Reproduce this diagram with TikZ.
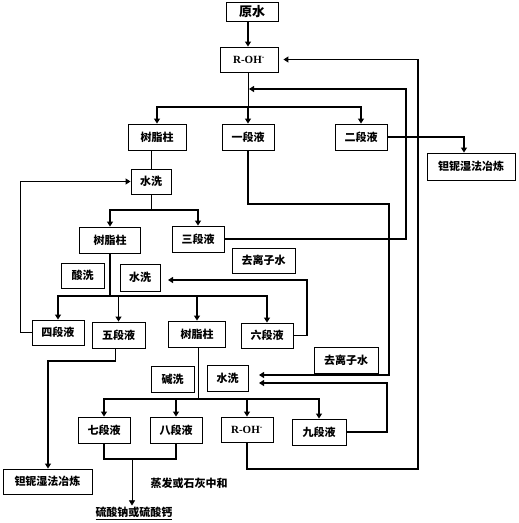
\documentclass[tikz,border=0pt]{standalone}
\usepackage{fontspec}
\setmainfont{Noto Sans CJK SC}
\newfontfamily\latf{Liberation Serif}
\usetikzlibrary{arrows.meta}
\tikzset{
  box/.style={draw, line width=0.9pt, inner sep=0pt, font=\fontsize{11}{13}\selectfont\bfseries},
  flow/.style={line width=1.1pt, -{Triangle[length=5pt,width=6pt]}},
  link/.style={line width=1.1pt},
  thin link/.style={line width=0.6pt},
  thin flow/.style={line width=0.6pt, -{Triangle[length=5pt,width=6pt]}},
  lbl/.style={inner sep=1pt, font=\fontsize{11}{13}\selectfont\bfseries},
}
\newcommand{\roh}{{\latf\bfseries R-OH\textsuperscript{-}}}
\begin{document}
\begin{tikzpicture}[x=1pt,y=-1pt]
\useasboundingbox (0,0) rectangle (519,523);
% boxes
\node[box, minimum width=52pt, minimum height=19pt, font=\fontsize{13}{15}\selectfont\bfseries] (ys) at (252,11.5) {原水};
\node[box, minimum width=58pt, minimum height=25pt] (roha) at (249,59.5) {\roh};
\node[box, minimum width=58pt, minimum height=26pt] (szza) at (157,137) {树脂柱};
\node[box, minimum width=52pt, minimum height=26pt] (yd) at (248,137) {一段液};
\node[box, minimum width=52pt, minimum height=26pt] (ed) at (361,137) {二段液};
\node[box, minimum width=88pt, minimum height=27pt] (tna) at (471,166.5) {钽铌湿法冶炼};
\node[box, minimum width=40pt, minimum height=25pt] (sxa) at (151,181.5) {水洗};
\node[box, minimum width=61pt, minimum height=26pt] (szzb) at (110,240) {树脂柱};
\node[box, minimum width=52pt, minimum height=26pt] (sd) at (198,239) {三段液};
\node[box, minimum width=63pt, minimum height=25pt] (qlza) at (263.5,260.5) {去离子水};
\node[box, minimum width=43pt, minimum height=25pt] (sxi) at (82.5,275.5) {酸洗};
\node[box, minimum width=40pt, minimum height=27pt] (sxb) at (140,277.5) {水洗};
\node[box, minimum width=52pt, minimum height=25pt] (sid) at (58,332.5) {四段液};
\node[box, minimum width=53pt, minimum height=26pt] (wd) at (118.5,335) {五段液};
\node[box, minimum width=57pt, minimum height=26pt] (szzc) at (197,334) {树脂柱};
\node[box, minimum width=52pt, minimum height=25pt] (ld) at (267,335.5) {六段液};
\node[box, minimum width=64pt, minimum height=26pt] (qlzb) at (346,360) {去离子水};
\node[box, minimum width=43pt, minimum height=26pt] (jx) at (172.5,379) {碱洗};
\node[box, minimum width=41pt, minimum height=26pt] (sxc) at (227.5,378) {水洗};
\node[box, minimum width=52pt, minimum height=26pt] (qd) at (104,430) {七段液};
\node[box, minimum width=52pt, minimum height=26pt] (bd) at (176,430) {八段液};
\node[box, minimum width=52pt, minimum height=25pt] (rohb) at (247,429.5) {\roh};
\node[box, minimum width=54pt, minimum height=26pt] (jd) at (319,432) {九段液};
\node[box, minimum width=89pt, minimum height=25pt] (tnb) at (47.5,481.5) {钽铌湿法冶炼};
\node[lbl] (zf) at (189,483) {蒸发或石灰中和};
\node[lbl] (prod) at (134,513) {\underline{硫酸钠或硫酸钙}};
% coordinates
\coordinate (b1) at (248,107);
\coordinate (b2) at (151,210);
\coordinate (b3) at (110,296);
\coordinate (b4) at (198,399);
\coordinate (f1) at (418,469);
\coordinate (f2) at (406,89);
\coordinate (j2) at (249,89);
\coordinate (g1) at (389,204);
\coordinate (g2) at (259,375);
\coordinate (h1) at (387,383);
\coordinate (h2) at (259,383);
\coordinate (k1) at (307,280);
\coordinate (k2) at (168,280);
\coordinate (m1) at (48,361);
\coordinate (c1) at (132,459);
% connectors
\draw[flow] (ys.south -| b1) -- (b1 |- roha.north);
\draw[thin link] (roha.south -| b1) -- (b1);
\draw[flow] (b1) -| (szza.north);
\draw[flow] (b1) -- (yd.north);
\draw[flow] (b1) -| (ed.north);
\draw[flow] (ed.east) -| ([xshift=-7pt]tna.north);
\draw[flow] (rohb.south) |- (f1) |- ([xshift=5pt]roha.east);
\draw[flow] (sd.east) -| (f2) -- (j2);
\draw[flow] (yd.south) |- (g1) |- (g2);
\draw[flow] (jd.east) -| (h1) -- (h2);
\draw[thin link] (szza.south -| sxa) -- (sxa.north);
\draw[thin link] (sxa.south) -- (b2);
\draw[flow] (b2) -| (szzb.north);
\draw[flow] (b2) -| (sd.north);
\draw[flow] (sid.west) -- ++(-11,0) |- (sxa.west);
\draw[link] (szzb.south -| b3) -- (b3);
\draw[flow] (b3) -| (sid.north);
\draw[flow] (b3) -| (wd.north);
\draw[flow] (b3) -| (szzc.north);
\draw[flow] (b3) -| (ld.north);
\draw[flow] (ld.east) -| (k1) -- (k2);
\draw[flow] ([xshift=-3pt]wd.south) |- (m1) -- (m1 |- tnb.north);
\draw[thin link] (szzc.south -| b4) -- (b4);
\draw[flow] (b4) -| (qd.north);
\draw[flow] (b4) -| (bd.north);
\draw[flow] (b4) -| (rohb.north);
\draw[flow] (b4) -| (jd.north);
\draw[link] (qd.south) |- (c1) -| (bd.south);
\draw[thin flow] (c1) -- (c1 |- prod.north);
\end{tikzpicture}
\end{document}
